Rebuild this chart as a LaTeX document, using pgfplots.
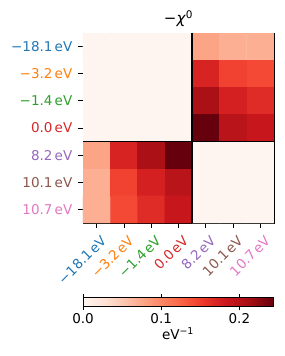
\documentclass[border=0pt]{standalone}
\usepackage{fontspec}
\setmainfont{DejaVu Sans}
\usepackage{pgfplots}
\pgfplotsset{compat=1.18}
\definecolor{c1}{HTML}{1F77B4}
\definecolor{c2}{HTML}{FF7F0E}
\definecolor{c3}{HTML}{2CA02C}
\definecolor{c4}{HTML}{D62728}
\definecolor{c5}{HTML}{9467BD}
\definecolor{c6}{HTML}{8C564B}
\definecolor{c7}{HTML}{E377C2}
\pgfplotsset{colormap={reds}{rgb255=(255,245,240) rgb255=(254,224,210) rgb255=(252,187,161) rgb255=(252,146,114) rgb255=(251,106,74) rgb255=(239,59,44) rgb255=(203,24,29) rgb255=(165,15,21) rgb255=(103,0,13)}}
\begin{document}
\begin{tikzpicture}
\useasboundingbox (-83pt,-133pt) rectangle (201pt,223pt);
\begin{axis}[
  scale only axis, width=191pt, height=190pt,
  xmin=-0.5, xmax=6.5, ymin=-0.5, ymax=6.5, y dir=reverse,
  colormap name=reds, point meta min=0, point meta max=0.243,
  axis line style={line width=0.8pt},
  tick style={black, line width=0.8pt},
  tick align=outside, major tick length=5pt,
  xtick pos=bottom, ytick pos=left,
  xtick={0,...,6}, ytick={0,...,6},
  tick label style={font=\fontsize{13.5}{16}\selectfont},
  yticklabels={\textcolor{c1}{−18.1\,eV},\textcolor{c2}{−3.2\,eV},\textcolor{c3}{−1.4\,eV},\textcolor{c4}{0.0\,eV},\textcolor{c5}{8.2\,eV},\textcolor{c6}{10.1\,eV},\textcolor{c7}{10.7\,eV}},
  xticklabels={\textcolor{c1}{−18.1\,eV},\textcolor{c2}{−3.2\,eV},\textcolor{c3}{−1.4\,eV},\textcolor{c4}{0.0\,eV},\textcolor{c5}{8.2\,eV},\textcolor{c6}{10.1\,eV},\textcolor{c7}{10.7\,eV}},
  xticklabel style={xshift=3.5pt, yshift=-5pt, rotate=45, anchor=north east, inner sep=1pt},
  yticklabel style={inner xsep=5.5pt, inner ysep=1pt},
  title={−\textit{χ}\textsuperscript{0}},
  title style={font=\fontsize{15}{18}\selectfont, yshift=-3pt},
  colorbar horizontal,
  colorbar style={
    at={(parent axis.south west)}, anchor=north west, yshift=-66pt,
    width=190pt, height=9pt, scale only axis,
    xtick={0,0.1,0.2}, tick align=outside, major tick length=3.5pt,
    xticklabel style={/pgf/number format/.cd, fixed, precision=1, zerofill, assume math mode=true},
    tick label style={font=\fontsize{13.5}{16}\selectfont},
    label style={font=\fontsize{13.5}{16}\selectfont},
    xlabel={eV\textsuperscript{−1}},
    xlabel style={yshift=3pt},
    axis line style={line width=0.8pt},
    tick style={black, line width=0.8pt},
  },
]
\addplot[matrix plot*, mesh/cols=7, point meta=explicit] table[meta=c] {
x y c
0 0 0
1 0 0
2 0 0
3 0 0
4 0 0.078
5 0 0.070
6 0 0.070
0 1 0
1 1 0
2 1 0
3 1 0
4 1 0.172
5 1 0.148
6 1 0.143
0 2 0
1 2 0
2 2 0
3 2 0
4 2 0.209
5 2 0.175
6 2 0.165
0 3 0
1 3 0
2 3 0
3 3 0
4 3 0.243
5 3 0.197
6 3 0.185
0 4 0.078
1 4 0.172
2 4 0.209
3 4 0.243
4 4 0
5 4 0
6 4 0
0 5 0.070
1 5 0.148
2 5 0.175
3 5 0.197
4 5 0
5 5 0
6 5 0
0 6 0.070
1 6 0.143
2 6 0.165
3 6 0.185
4 6 0
5 6 0
6 6 0
};
\draw[line width=1.6pt, black] (axis cs:3.5,-0.5) -- (axis cs:3.5,6.5);
\draw[line width=1.6pt, black] (axis cs:-0.5,3.5) -- (axis cs:6.5,3.5);
\end{axis}
\end{tikzpicture}
\end{document}
